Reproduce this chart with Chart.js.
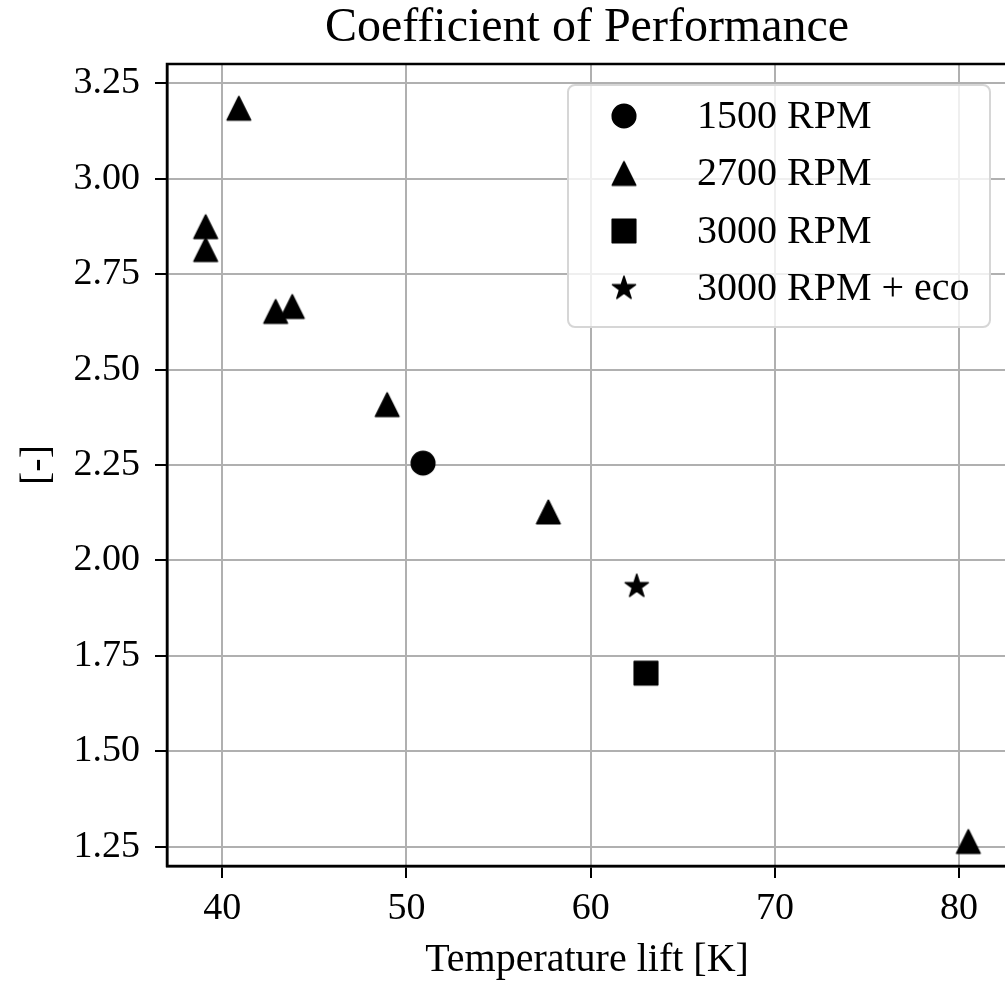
<!DOCTYPE html>
<html>
<head>
<meta charset="utf-8">
<script src="https://cdn.jsdelivr.net/npm/chart.js@4.4.0/dist/chart.umd.min.js"></script>
<style>
  html, body { margin: 0; padding: 0; background: #fff; overflow: hidden; }
  #wrap { width: 1012px; height: 981px; }
</style>
</head>
<body>
<div id="wrap"><canvas id="myChart"></canvas></div>
<script>
// values
var seriesNames = ['1500 RPM', '2700 RPM', '3000 RPM', '3000 RPM + eco'];
var lift1500 = [50.9];
var cop1500 = [2.255];
var lift2700 = [40.9, 39.1, 39.1, 42.9, 43.8, 48.95, 57.7, 80.5];
var cop2700 = [3.184, 2.874, 2.814, 2.652, 2.665, 2.408, 2.127, 1.264];
var lift3000 = [63.0];
var cop3000 = [1.705];
var liftEco = [62.5];
var copEco = [1.932];
var xTickValues = [40, 50, 60, 70, 80];
var yTickValues = [1.25, 1.5, 1.75, 2.0, 2.25, 2.5, 2.75, 3.0, 3.25];

var serif = "'Liberation Serif', 'Times New Roman', serif";

// matplotlib-like filled markers with round joins
function makeMarker(shape) {
  var size = 32;
  var c = document.createElement('canvas');
  c.width = size; c.height = size;
  var g = c.getContext('2d');
  var m = size / 2;
  g.fillStyle = '#000';
  g.strokeStyle = '#000';
  g.lineWidth = 1.5;
  g.lineJoin = 'round';
  g.beginPath();
  if (shape == 'circle') {
    g.arc(m, m, 11.8, 0, Math.PI * 2);
  } else if (shape == 'triangle') {
    g.moveTo(m, m - 11.8);
    g.lineTo(m + 11.8, m + 11.8);
    g.lineTo(m - 11.8, m + 11.8);
    g.closePath();
  } else if (shape == 'square') {
    g.rect(m - 11.8, m - 11.8, 23.6, 23.6);
  } else if (shape == 'star') {
    var R = 12.2, r = R * 0.381966;
    for (var i = 0; i < 10; i++) {
      var a = -Math.PI / 2 + i * Math.PI / 5;
      var rr = (i % 2 == 0) ? R : r;
      var px = m + Math.cos(a) * rr, py = m + Math.sin(a) * rr;
      if (i == 0) g.moveTo(px, py); else g.lineTo(px, py);
    }
    g.closePath();
  }
  g.fill();
  g.stroke();
  return c;
}

var markers = [makeMarker('circle'), makeMarker('triangle'), makeMarker('square'), makeMarker('star')];

function toPoints(xs, ys) {
  return xs.map(function (x, i) { return { x: x, y: ys[i] }; });
}

var frame = {
  id: 'frame',
  afterDatasetsDraw: function (chart) {
    var a = chart.chartArea, ctx = chart.ctx;
    ctx.save();
    ctx.strokeStyle = '#000';
    ctx.lineWidth = 2.5;
    ctx.strokeRect(a.left, a.top, a.right - a.left, a.bottom - a.top);
    ctx.restore();
  },
  afterDraw: function (chart) {
    // legend box, upper right like matplotlib
    var a = chart.chartArea, ctx = chart.ctx;
    var bx = a.left + 401, by = a.top + 21, bw = 422, bh = 242;
    ctx.save();
    ctx.beginPath();
    ctx.roundRect(bx, by, bw, bh, 7);
    ctx.fillStyle = 'rgba(255,255,255,0.8)';
    ctx.fill();
    ctx.strokeStyle = '#d6d6d6';
    ctx.lineWidth = 2;
    ctx.stroke();
    ctx.font = '40px ' + serif;
    ctx.fillStyle = '#000';
    ctx.textBaseline = 'middle';
    ctx.textAlign = 'left';
    for (var i = 0; i < seriesNames.length; i++) {
      var ry = by + 31 + i * 57.5;
      var mk = markers[i];
      ctx.drawImage(mk, bx + 56 - mk.width / 2, ry - mk.height / 2);
      ctx.fillText(seriesNames[i], bx + 129, ry + 1);
    }
    ctx.restore();
  }
};

var canvas = document.getElementById('myChart');
new Chart(canvas, {
  type: 'scatter',
  data: {
    datasets: [
      { label: seriesNames[0], data: toPoints(lift1500, cop1500), pointStyle: markers[0] },
      { label: seriesNames[1], data: toPoints(lift2700, cop2700), pointStyle: markers[1] },
      { label: seriesNames[2], data: toPoints(lift3000, cop3000), pointStyle: markers[2] },
      { label: seriesNames[3], data: toPoints(liftEco, copEco), pointStyle: markers[3] }
    ]
  },
  options: {
    responsive: true,
    maintainAspectRatio: false,
    animation: false,
    layout: { padding: 0 },
    plugins: {
      legend: { display: false },
      tooltip: { enabled: false },
      title: {
        display: true,
        text: 'Coefficient of Performance',
        fullSize: false,
        color: '#000',
        font: { family: serif, size: 48, weight: 'normal', lineHeight: 1.2 },
        padding: { top: 0, bottom: 6.4 }
      }
    },
    scales: {
      x: {
        type: 'linear',
        min: 37,
        max: 82.6,
        afterBuildTicks: function (scale) {
          scale.ticks = xTickValues.map(function (v) { return { value: v }; });
        },
        afterFit: function (scale) {
          scale.height = 115;
          scale.paddingLeft = 0;
          scale.paddingRight = 0;
        },
        ticks: {
          color: '#000',
          font: { family: serif, size: 38 },
          padding: 8,
          maxRotation: 0,
          callback: function (v) { return String(v); }
        },
        grid: { color: '#b0b0b0', lineWidth: 2, tickColor: '#000', tickLength: 12, tickWidth: 2 },
        border: { color: '#000', width: 2.5 },
        title: {
          display: true,
          text: 'Temperature lift [K]',
          color: '#000',
          font: { family: serif, size: 40, lineHeight: 1.0 },
          padding: { top: 0, bottom: 1 }
        }
      },
      y: {
        type: 'linear',
        min: 1.2,
        max: 3.3,
        afterBuildTicks: function (scale) {
          scale.ticks = yTickValues.map(function (v) { return { value: v }; });
        },
        afterFit: function (scale) {
          scale.width = 167;
          scale.paddingTop = 0;
          scale.paddingBottom = 0;
        },
        ticks: {
          color: '#000',
          font: { family: serif, size: 38 },
          padding: 15,
          callback: function (v) { return Number(v).toFixed(2); }
        },
        grid: { color: '#b0b0b0', lineWidth: 2, tickColor: '#000', tickLength: 12, tickWidth: 2 },
        border: { color: '#000', width: 2.5 },
        title: {
          display: true,
          text: '[-]',
          color: '#000',
          font: { family: serif, size: 40, lineHeight: 1.0 },
          padding: { top: 17, bottom: 0 }
        }
      }
    }
  },
  plugins: [frame]
});
</script>
</body>
</html>
